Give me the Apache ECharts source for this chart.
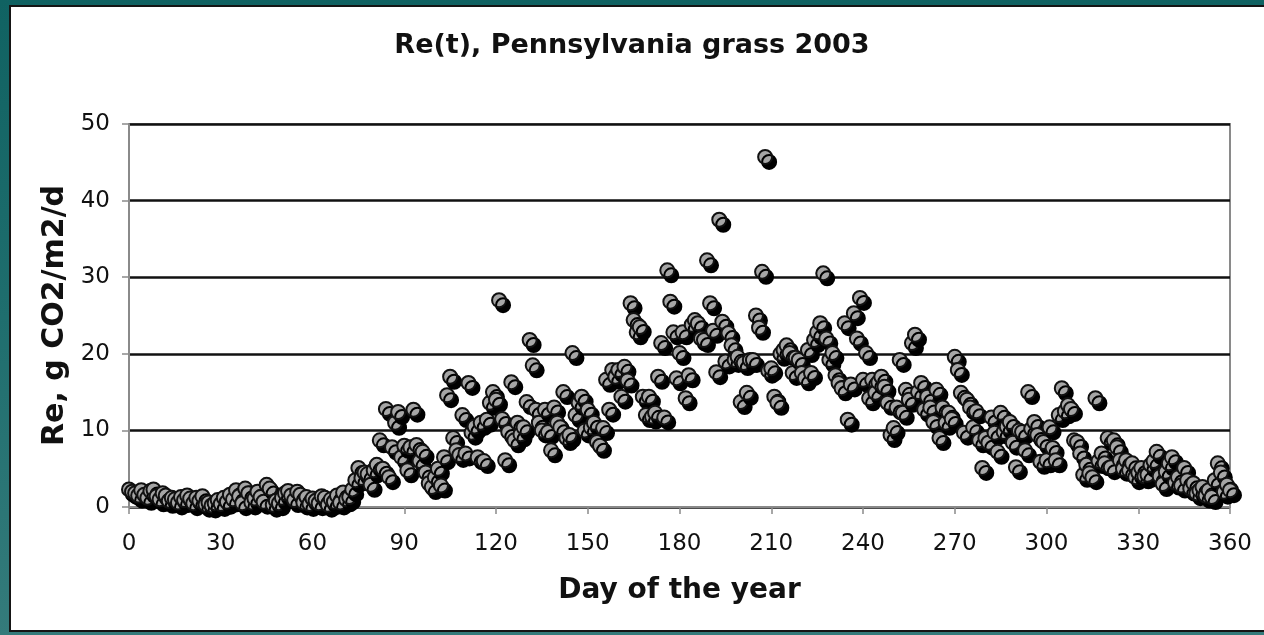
<!DOCTYPE html>
<html>
<head>
<meta charset="utf-8">
<script src="https://cdn.jsdelivr.net/npm/echarts@6/dist/echarts.min.js"></script>
<style>
  html, body { margin: 0; padding: 0; }
  body {
    width: 1264px; height: 635px; overflow: hidden;
    background: linear-gradient(180deg, #106262 0%, #1f6e6e 50%, #347b7b 100%);
    position: relative;
  }
  #panel {
    position: absolute; left: 9px; top: 5px; width: 1300px; height: 627px;
    background: #fff; border: 2px solid #151515; box-sizing: border-box;
  }
  #chart { position: absolute; left: 0; top: 0; width: 1264px; height: 635px; }
</style>
</head>
<body>
<div id="panel"></div>
<div id="chart"></div>
<script>
// Re(t) en g CO2/m2/d, un point par jour (jour 0 à 360)
const reValues = [
  2.3, 2.0, 1.8, 1.5, 2.2, 1.6, 1.2, 2.1, 2.3, 1.4,
  1.0, 1.8, 1.5, 0.8, 1.2, 1.0, 0.6, 1.3, 0.9, 1.5,
  1.1, 0.5, 1.2, 0.8, 1.4, 0.3, 0.6, 0.2, 0.5, 0.9,
  0.4, 1.2, 0.7, 1.6, 1.0, 2.2, 1.4, 0.5, 2.4, 1.8,
  0.6, 1.1, 2.0, 1.3, 0.7, 2.9, 2.4, 0.3, 0.8, 0.5,
  1.2, 1.8, 2.1, 1.5, 0.9, 2.0, 1.6, 0.6, 1.3, 0.4,
  1.1, 0.8, 0.5, 1.4, 1.2, 0.3, 1.0, 0.7, 1.5, 0.6,
  1.9, 1.0, 1.3, 2.3, 3.5, 5.1, 3.8, 4.5, 4.3, 2.9,
  4.8, 5.5, 8.7, 5.0, 12.8, 3.9, 7.8, 11.0, 12.4, 6.5,
  8.0, 4.8, 7.8, 12.7, 8.1, 6.0, 7.2, 4.5, 3.1, 2.6,
  3.9, 5.0, 2.8, 6.5, 14.6, 17.0, 9.0, 7.4, 6.8, 12.0,
  7.0, 16.2, 9.7, 10.5, 6.5, 11.0, 6.0, 11.4, 13.6, 15.0,
  14.0, 27.0, 11.5, 6.1, 9.8, 16.3, 8.7, 11.0, 9.5, 10.4,
  13.7, 21.8, 18.5, 12.7, 11.0, 10.0, 12.7, 9.8, 7.4, 13.0,
  11.0, 10.4, 15.0, 9.0, 9.4, 20.1, 12.0, 13.6, 14.4, 10.0,
  12.7, 10.4, 11.0, 8.5, 8.0, 10.3, 16.6, 12.7, 17.9, 17.0,
  17.9, 14.4, 18.3, 16.5, 26.6, 24.4, 22.8, 23.5, 14.4, 12.0,
  14.4, 11.8, 12.3, 17.0, 21.4, 11.7, 30.9, 26.8, 22.8, 16.8,
  20.1, 22.8, 14.2, 17.2, 23.8, 24.4, 24.0, 22.0, 21.8, 32.2,
  26.6, 23.0, 17.6, 37.5, 24.2, 19.0, 22.7, 21.1, 19.2, 19.6,
  13.7, 18.8, 14.9, 19.2, 19.2, 25.0, 23.4, 30.7, 45.7, 17.8,
  18.1, 14.4, 13.6, 20.0, 20.5, 21.1, 20.1, 17.5, 19.5, 19.2,
  17.5, 16.8, 20.5, 17.5, 21.8, 22.8, 24.0, 30.5, 22.0, 19.2,
  20.1, 17.2, 16.2, 15.5, 24.0, 11.4, 16.0, 25.3, 22.0, 27.3,
  16.6, 20.1, 14.2, 16.6, 14.9, 16.3, 17.0, 15.7, 13.6, 9.4,
  10.3, 13.0, 19.2, 12.3, 15.3, 14.0, 21.4, 22.5, 15.0, 16.2,
  12.7, 14.4, 13.0, 11.1, 15.3, 9.0, 13.0, 11.0, 12.3, 11.5,
  19.6, 17.9, 14.9, 9.7, 14.0, 13.0, 10.4, 12.5, 8.7, 5.1,
  9.0, 8.4, 11.7, 9.7, 7.2, 12.3, 9.8, 10.5, 11.1, 8.4,
  5.2, 10.0, 9.8, 7.4, 15.0, 10.2, 11.1, 9.4, 5.9, 8.5,
  6.1, 10.4, 7.7, 6.1, 12.0, 15.5, 12.5, 13.3, 12.8, 8.7,
  8.5, 7.0, 4.2, 5.5, 4.4, 3.9, 14.2, 6.0, 7.0, 5.7,
  9.0, 5.2, 8.7, 7.8, 6.1, 5.0, 6.1, 4.8, 5.7, 3.9,
  4.5, 5.1, 4.0, 4.2, 5.5, 6.0, 7.2, 4.0, 3.0, 4.6,
  5.7, 6.5, 3.2, 3.9, 2.8, 5.1, 3.5, 2.4, 3.1, 1.8,
  2.2, 2.6, 1.5, 2.2, 1.3, 3.5, 5.7, 4.5, 2.0, 2.9,
  2.2
];

const xTicks = [0, 30, 60, 90, 120, 150, 180, 210, 240, 270, 300, 330, 360];
const yTicks = [0, 10, 20, 30, 40, 50];

const font = '"DejaVu Sans", Verdana, sans-serif';

// paires [jour, valeur]
const points = reValues.map((v, day) => [day, v]);

const chart = echarts.init(document.getElementById('chart'));

chart.setOption({
  backgroundColor: 'transparent',
  animation: false,
  title: {
    text: 'Re(t), Pennsylvania grass 2003',
    left: 'center',
    top: 27,
    textStyle: { fontFamily: font, fontSize: 27, fontWeight: 'bold', color: '#111' }
  },
  grid: {
    left: 129, right: 34, top: 124, bottom: 128,
    show: true, borderColor: '#8a8a8a', borderWidth: 2
  },
  xAxis: {
    type: 'value',
    min: xTicks[0], max: xTicks[xTicks.length - 1], interval: 30,
    name: 'Day of the year',
    nameLocation: 'middle',
    nameGap: 70,
    nameTextStyle: { fontFamily: font, fontSize: 28, fontWeight: 'bold', color: '#111' },
    axisLine: { show: true, lineStyle: { color: '#8a8a8a', width: 2 } },
    axisTick: { show: true, inside: false, length: 7, lineStyle: { color: '#8a8a8a', width: 1.5 } },
    axisLabel: { fontFamily: font, fontSize: 23, color: '#111', margin: 26 },
    splitLine: { show: false }
  },
  yAxis: {
    type: 'value',
    min: yTicks[0], max: yTicks[yTicks.length - 1], interval: 10,
    name: 'Re, g CO2/m2/d',
    nameLocation: 'middle',
    nameGap: 52,
    nameTextStyle: { fontFamily: font, fontSize: 30, fontWeight: 'bold', color: '#111' },
    axisLine: { show: true, lineStyle: { color: '#8a8a8a', width: 2 } },
    axisTick: { show: true, inside: false, length: 7, lineStyle: { color: '#8a8a8a', width: 1.5 } },
    axisLabel: { fontFamily: font, fontSize: 23, color: '#111', margin: 19 },
    splitLine: { show: true, lineStyle: { color: '#111', width: 2.5 } }
  },
  series: [
    {
      type: 'scatter',
      data: points,
      symbol: 'circle',
      symbolSize: 14,
      itemStyle: {
        color: '#a6a6a6',
        borderColor: '#111',
        borderWidth: 2,
        opacity: 1,
        shadowColor: '#000',
        shadowBlur: 0,
        shadowOffsetX: 4,
        shadowOffsetY: 5
      },
      z: 3
    }
  ]
});
</script>
</body>
</html>
